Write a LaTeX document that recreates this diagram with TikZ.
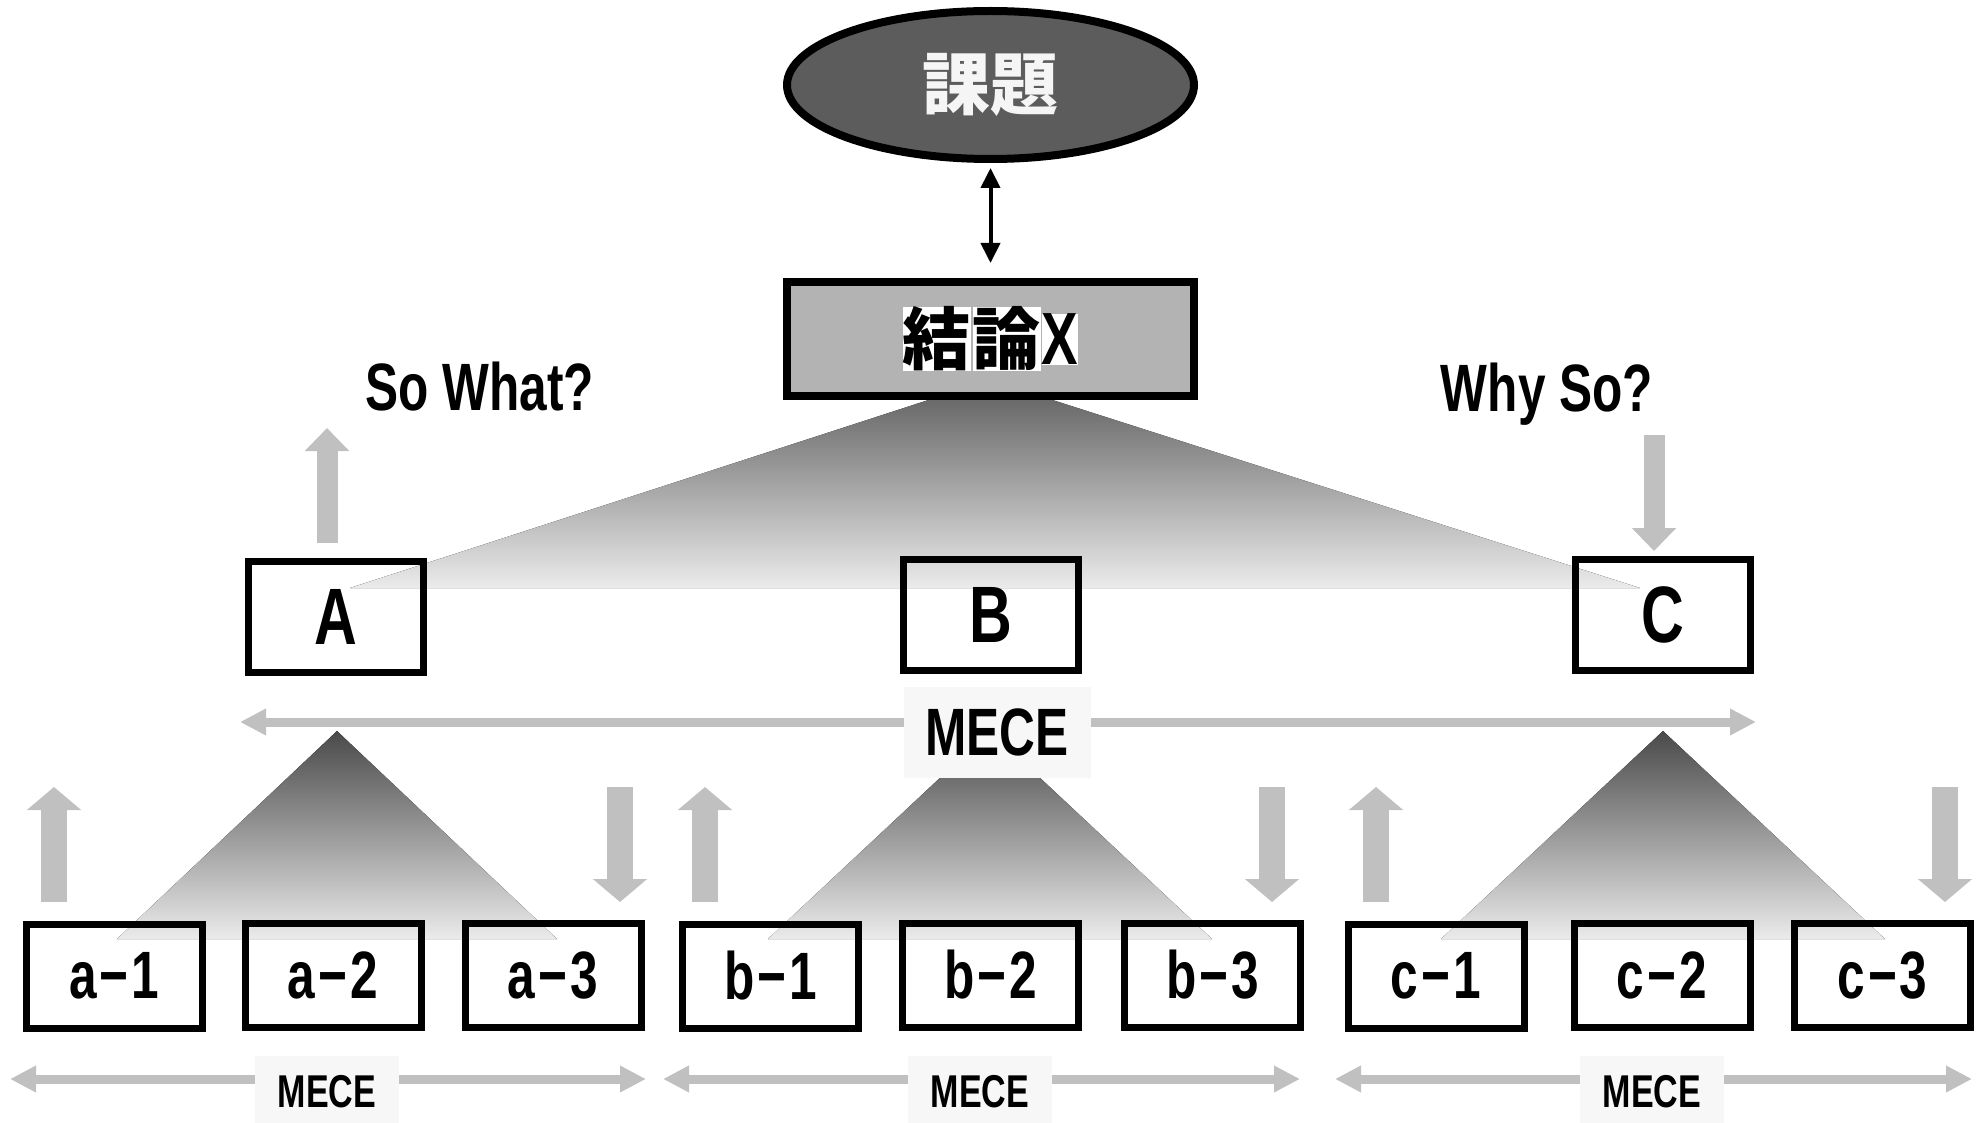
\documentclass[tikz,border=0pt]{standalone}
\usepackage{fontspec}
\setmainfont{Liberation Sans}[FakeStretch=0.74]
\newfontfamily\jfont{Noto Sans CJK JP}
\usetikzlibrary{arrows.meta,shapes.geometric}
\definecolor{arrowgray}{HTML}{C0C0C0}
\definecolor{ellgray}{HTML}{5C5C5C}
\definecolor{boxgray}{HTML}{B3B3B3}
\definecolor{labelbg}{HTML}{F7F7F7}
\definecolor{txtwhite}{HTML}{F5F5F5}
\definecolor{shadetop}{HTML}{4A4A4A}
\definecolor{shadebot}{HTML}{EBEBEB}
\newcommand\fsz[1]{\fontsize{#1}{#1}\selectfont}
\begin{document}
\begin{tikzpicture}[x=1pt,y=-1pt,
  leafbox/.style={draw=black, line width=7pt, minimum width=176pt, minimum height=104pt, inner sep=0pt, font=\bfseries\fsz{67}},
  midbox/.style={draw=black, line width=7pt, minimum width=175pt, minimum height=111pt, inner sep=0pt, font=\bfseries\fsz{80}},
  topgray/.style={draw=arrowgray, line width=21pt, -{Triangle[width=43pt,length=23pt]}},
  botgray/.style={draw=arrowgray, line width=26pt, -{Triangle[width=53pt,length=23pt]}},
  hmece/.style={draw=arrowgray, line width=9pt, {Triangle[width=25pt,length=26pt]}-{Triangle[width=25pt,length=26pt]}},
  smallmece/.style={fill=labelbg, minimum width=144pt, minimum height=72pt, inner sep=0pt, font=\bfseries\fsz{46}},
  tri/.style={top color=shadetop, bottom color=shadebot, draw=none},
  question/.style={anchor=base, font=\bfseries\fsz{67}}
]
\useasboundingbox (0,0) rectangle (1980,1123);
\fill[white] (0,0) rectangle (1980,1123);

% gradient triangles
\fill[top color=shadetop!90!white, bottom color=shadebot] (990,380) -- (1640,588) -- (350,588) -- cycle;
\fill[tri] (337,731) -- (557,939) -- (117,939) -- cycle;
\fill[tri] (990,731) -- (1212,939) -- (768,939) -- cycle;
\fill[tri] (1663,731) -- (1885,939) -- (1441,939) -- cycle;

% top
\node[ellipse, draw=black, line width=8pt, fill=ellgray, minimum width=407pt, minimum height=148pt, inner sep=0pt,
      font=\jfont\bfseries\fsz{68}, text=txtwhite] (task) at (990.5,85) {課題};
\node[draw=black, line width=8pt, fill=boxgray, minimum width=407pt, minimum height=114pt, inner sep=0pt,
      font=\bfseries\fsz{68}] (concl) at (990.5,339)
  {\setlength\fboxsep{0pt}\colorbox{white}{\jfont\bfseries 結}\kern2pt\colorbox{white}{\jfont\bfseries 論}\kern1pt\colorbox{white}{\fsz{74}X}};
\draw[line width=4pt, {Triangle[width=19pt,length=20pt]}-{Triangle[width=19pt,length=20pt]}, shorten <=5pt, shorten >=15pt] (task.south) -- (concl.north);

% middle level
\node[midbox] (A) at (336,617) {A};
\node[midbox] (B) at (990.5,615) {B};
\node[midbox] (C) at (1662.5,615) {C};

\node[question] (sowhat) at (480,410) {So What?};
\node[question] (whyso) at (1547,411) {Why So?};

\coordinate (aupS) at (327,543);
\coordinate (aupE) at (327,428);
\draw[topgray] (aupS) -- (aupE);
\coordinate (cdnS) at (1654,435);
\coordinate (cdnE) at (1654,551);
\draw[topgray] (cdnS) -- (cdnE);

% big MECE
\coordinate (bigL) at (240,722);
\coordinate (bigR) at (1756,722);
\draw[hmece] (bigL) -- (bigR);
\node[fill=labelbg, minimum width=187pt, minimum height=91pt, inner sep=0pt, font=\bfseries\fsz{67}] (mece) at (997,732) {MECE};

% bottom level
\node[leafbox] (a1) at (114.5,976) {a\kern3pt−\kern3pt1};
\node[leafbox] (a2) at (333,975) {a\kern3pt−\kern3pt2};
\node[leafbox] (a3) at (553,975) {a\kern3pt−\kern3pt3};
\node[leafbox] (b1) at (770.5,976) {b\kern3pt−\kern3pt1};
\node[leafbox] (b2) at (990.5,975) {b\kern3pt−\kern3pt2};
\node[leafbox] (b3) at (1212.5,975) {b\kern3pt−\kern3pt3};
\node[leafbox] (c1) at (1436,976) {c\kern3pt−\kern3pt1};
\node[leafbox] (c2) at (1662,975) {c\kern3pt−\kern3pt2};
\node[leafbox] (c3) at (1882.5,975) {c\kern3pt−\kern3pt3};

% small block arrows
\coordinate (u1S) at (54,902);   \coordinate (u1E) at (54,787);
\coordinate (d1S) at (620,787);  \coordinate (d1E) at (620,902);
\coordinate (u2S) at (705,902);  \coordinate (u2E) at (705,787);
\coordinate (d2S) at (1272,787); \coordinate (d2E) at (1272,902);
\coordinate (u3S) at (1376,902); \coordinate (u3E) at (1376,787);
\coordinate (d3S) at (1945,787); \coordinate (d3E) at (1945,902);
\draw[botgray] (u1S) -- (u1E);
\draw[botgray] (d1S) -- (d1E);
\draw[botgray] (u2S) -- (u2E);
\draw[botgray] (d2S) -- (d2E);
\draw[botgray] (u3S) -- (u3E);
\draw[botgray] (d3S) -- (d3E);

% bottom MECE arrows
\coordinate (maL) at (10,1079);   \coordinate (maR) at (646,1079);
\coordinate (mbL) at (663,1079);  \coordinate (mbR) at (1300,1079);
\coordinate (mcL) at (1335,1079); \coordinate (mcR) at (1972,1079);
\draw[hmece] (maL) -- (maR);
\draw[hmece] (mbL) -- (mbR);
\draw[hmece] (mcL) -- (mcR);
\node[smallmece] (mecea) at (327,1092) {MECE};
\node[smallmece] (meceb) at (980,1092) {MECE};
\node[smallmece] (mecec) at (1652,1092) {MECE};
\end{tikzpicture}
\end{document}
